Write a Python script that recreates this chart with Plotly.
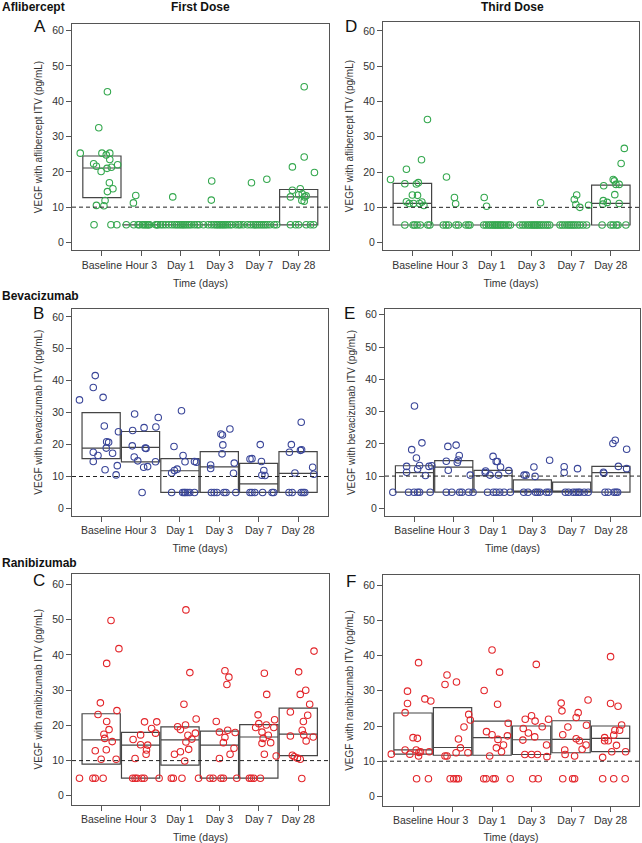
import plotly.graph_objects as go

CATEGORIES = ["Baseline", "Hour 3", "Day 1", "Day 3", "Day 7", "Day 28"]
Y_TICKS = [0, 10, 20, 30, 40, 50, 60]
THRESHOLD = 10

# ---------------- Aflibercept, first dose (A) ----------------
AFL1_VALUES = [
    [25.3, 32.5, 42.7, 22.3, 21.6, 25.3, 24.8, 25.3, 23.5, 20.1, 21.0, 21.3, 22.0, 16.9, 14.4, 15.2, 11.9, 10.5, 10.4, 5, 5, 5],
    [11.2, 13.3, 5, 5, 5, 5, 5, 5, 5, 5, 5, 5, 5, 5, 5, 5],
    [12.9, 5, 5, 5, 5, 5, 5, 5, 5, 5, 5, 5, 5, 5, 5, 5, 5, 5],
    [17.4, 12.0, 5, 5, 5, 5, 5, 5, 5, 5, 5, 5, 5, 5, 5, 5, 5, 5],
    [16.9, 17.9, 5, 5, 5, 5, 5, 5, 5, 5, 5, 5, 5, 5, 5, 5, 5],
    [44.1, 24.2, 21.4, 19.8, 14.8, 15.2, 12.9, 13.5, 13.8, 12.9, 13.2, 11.9, 11.7, 5, 5, 5, 5, 5, 5],
]
AFL1_JITTER = [
    [-0.55, -0.08, 0.14, -0.21, -0.14, 0.0, 0.11, 0.2, 0.2, -0.02, 0.13, 0.24, 0.4, 0.19, 0.14, 0.28, 0.08, -0.14, 0.05, -0.2, 0.23, 0.38],
    [-0.2, -0.14, -0.38, -0.19, -0.08, -0.05, 0.03, 0.07, 0.11, 0.15, 0.18, 0.21, 0.37, 0.4, 0.42, 0.49],
    [-0.2, -0.45, -0.38, -0.3, -0.22, -0.15, -0.1, -0.05, 0, 0.04, 0.08, 0.12, 0.17, 0.22, 0.27, 0.35, 0.42, 0.47],
    [-0.21, -0.22, -0.42, -0.3, -0.22, -0.15, -0.1, -0.06, -0.02, 0.02, 0.06, 0.1, 0.14, 0.19, 0.25, 0.3, 0.4, 0.47],
    [-0.2, 0.19, -0.49, -0.41, -0.3, -0.22, -0.15, -0.1, -0.05, 0, 0.05, 0.1, 0.15, 0.2, 0.27, 0.38, 0.44],
    [0.14, 0.14, -0.16, 0.4, -0.16, 0.04, -0.21, 0, 0.09, 0.15, 0.19, 0.08, 0.14, -0.21, -0.08, 0, 0.19, 0.3, 0.38],
]
AFL1_Q1 = [12.7, 5, 5, 5, 5, 5]
AFL1_MED = [21.1, 5, 5, 5, 5, 12.9]
AFL1_Q3 = [24.5, 5, 5, 5, 5, 15.0]

# ---------------- Aflibercept, third dose (D) ----------------
AFL3_VALUES = [
    [17.9, 34.9, 23.5, 20.8, 16.7, 16.6, 17.0, 13.5, 13.4, 11.6, 11.1, 11.1, 11.1, 11.5, 10.5, 5, 5, 5, 5, 5, 5, 5],
    [18.6, 12.8, 11.0, 5, 5, 5, 5, 5, 5, 5, 5],
    [12.8, 10.3, 5, 5, 5, 5, 5, 5, 5, 5, 5, 5, 5, 5, 5, 5, 5],
    [11.3, 5, 5, 5, 5, 5, 5, 5, 5, 5, 5, 5, 5, 5, 5, 5, 5],
    [13.5, 12.2, 10.8, 10.0, 10.6, 5, 5, 5, 5, 5, 5, 5, 5, 5, 5, 5, 5],
    [26.7, 22.4, 17.9, 17.5, 16.1, 16.5, 16.5, 13.6, 11.9, 11.4, 10.9, 11.1, 5, 5, 5, 5, 5, 5],
]
AFL3_JITTER = [
    [-0.55, 0.38, 0.23, -0.15, -0.19, 0.1, 0.15, 0, 0.13, -0.15, -0.08, 0.03, 0.18, 0.24, 0.29, -0.19, 0.02, 0.06, 0.12, 0.2, 0.39, 0.44],
    [-0.14, 0.06, 0.09, -0.22, -0.15, -0.09, 0.1, 0.16, 0.35, 0.41, 0.45],
    [-0.19, -0.13, -0.2, -0.14, -0.08, -0.03, 0.02, 0.06, 0.1, 0.14, 0.18, 0.22, 0.26, 0.3, 0.36, 0.42, 0.47],
    [0.23, -0.29, -0.22, -0.16, -0.1, -0.05, 0, 0.04, 0.08, 0.12, 0.16, 0.2, 0.25, 0.3, 0.36, 0.41, 0.46],
    [0.14, 0.08, 0.12, 0.22, 0.44, -0.28, -0.22, -0.16, -0.1, -0.05, 0, 0.05, 0.1, 0.16, 0.22, 0.3, 0.39],
    [0.34, 0.26, 0.06, 0.09, -0.18, 0.13, 0.21, 0.1, -0.19, -0.09, -0.2, 0.21, -0.22, 0, 0.06, 0.14, 0.18, 0.38],
]
AFL3_Q1 = [5, 5, 5, 5, 5, 5]
AFL3_MED = [11.1, 5, 5, 5, 5, 11.1]
AFL3_Q3 = [16.8, 5, 5, 5, 5, 16.3]

# ---------------- Bevacizumab, first dose (B) ----------------
BEV1_VALUES = [
    [34.0, 41.6, 37.9, 34.8, 25.8, 24.0, 20.9, 20.7, 18.9, 17.6, 16.6, 17.3, 14.7, 12.1, 13.4, 10.5],
    [29.6, 24.4, 25.3, 25.5, 28.5, 19.6, 16.1, 14.9, 18.9, 18.8, 12.9, 13.1, 14.6, 5.0],
    [30.6, 19.4, 16.6, 14.6, 14.7, 14.5, 12.3, 11.9, 11.1, 5, 5, 5, 5, 5, 5, 5],
    [23.3, 23.0, 24.9, 19.9, 17.1, 13.6, 12.5, 14.2, 11.0, 5, 5, 5, 5, 5, 5],
    [20.0, 15.5, 15.6, 14.7, 11.9, 10.4, 10.3, 5, 5, 5, 5, 5, 5],
    [27.0, 20.0, 17.6, 18.2, 18.4, 11.1, 12.9, 10.7, 5, 5, 5, 5, 5],
]
BEV1_JITTER = [
    [-0.55, -0.15, -0.2, 0.05, 0.08, 0.44, 0.14, 0.19, 0.13, -0.2, -0.08, 0.29, -0.2, 0.1, 0.41, 0.38],
    [-0.15, -0.2, 0.09, 0.39, 0.45, -0.21, -0.16, -0.07, 0.12, 0.14, 0.08, 0.18, 0.38, 0.04],
    [0.04, -0.15, 0.08, 0.13, 0.37, 0.42, -0.07, -0.14, -0.21, -0.21, 0.07, 0.11, 0.14, 0.19, 0.25, 0.37],
    [0.04, 0.08, 0.27, 0.09, 0.07, -0.22, -0.22, 0.38, 0.36, -0.2, -0.13, -0.06, 0.12, 0.17, 0.42],
    [0.04, -0.22, -0.17, 0.07, 0.13, 0.08, 0.16, -0.22, -0.17, -0.1, 0.1, 0.34, 0.38],
    [0.08, -0.17, -0.22, 0.06, 0.09, -0.08, 0.37, 0.4, -0.23, -0.15, 0.08, 0.13, 0.17],
]
BEV1_Q1 = [15.6, 14.6, 5, 5, 5, 5]
BEV1_MED = [18.9, 19.1, 11.8, 13.0, 7.7, 11.0]
BEV1_Q3 = [30.0, 24.1, 15.6, 17.8, 14.1, 17.8]

# ---------------- Bevacizumab, third dose (E) ----------------
BEV3_VALUES = [
    [5, 31.7, 18.2, 20.3, 15.6, 13.0, 11.2, 12.2, 13.3, 10.2, 13.0, 13.2, 5, 5, 5, 5, 5],
    [19.2, 19.6, 16.4, 15.0, 14.2, 14.6, 11.8, 10.3, 5, 5, 5, 5, 5, 5],
    [16.1, 14.5, 14.5, 12.8, 11.7, 11.6, 11.1, 10.3, 10.3, 5, 5, 5, 5, 5, 5],
    [14.9, 12.8, 10.3, 10.3, 9.9, 5, 5, 5, 5, 5, 5, 5],
    [12.9, 12.3, 11.1, 5, 5, 5, 5, 5, 5, 5, 5],
    [21.1, 20.1, 18.3, 13.0, 12.3, 11.2, 10.9, 5, 5, 5, 5, 5],
]
BEV3_JITTER = [
    [-0.55, 0, -0.07, 0.19, 0.05, -0.2, -0.2, 0.08, 0.13, 0.28, 0.37, 0.44, -0.15, -0.01, 0.08, 0.13, 0.4],
    [-0.15, 0.06, 0.14, 0.11, 0.09, -0.19, -0.14, 0.42, -0.19, -0.05, 0.15, 0.21, 0.38, 0.49],
    [0, 0.08, 0.11, 0.19, 0.4, -0.19, -0.2, -0.08, 0.14, -0.14, 0.01, 0.08, 0.17, 0.28, 0.44],
    [0.44, 0.04, -0.21, -0.16, 0.07, -0.22, -0.11, 0.08, 0.13, 0.19, 0.36, 0.42],
    [-0.19, 0.15, -0.19, -0.16, -0.08, 0.04, 0.11, 0.17, 0.21, 0.32, 0.42],
    [0.11, 0.05, 0.4, 0.19, 0.4, -0.19, -0.18, -0.15, -0.07, 0.08, 0.13, 0.17],
]
BEV3_Q1 = [5, 5, 5, 5, 5, 5]
BEV3_MED = [11.1, 12.8, 10.1, 5, 5, 11.1]
BEV3_Q3 = [13.2, 14.8, 11.8, 8.8, 8.1, 13.0]

# ---------------- Ranibizumab, first dose (C) ----------------
RAN1_VALUES = [
    [5, 5, 5, 5, 49.8, 41.8, 37.6, 26.4, 23.1, 24.2, 21.1, 18.8, 17.5, 16.3, 15.4, 12.8, 13.1, 10.4, 10.4],
    [16.0, 17.3, 21.0, 21.0, 19.1, 17.8, 14.5, 14.4, 13.0, 11.8, 10.6, 5, 5, 5, 5, 5, 5],
    [52.8, 35.0, 26.0, 20.1, 19.6, 18.8, 21.8, 17.8, 17.2, 16.1, 15.3, 13.2, 12.5, 11.8, 9.9, 5, 5, 5, 5],
    [35.5, 33.7, 31.6, 21.1, 18.6, 18.0, 18.1, 16.6, 15.1, 13.5, 11.8, 10.6, 5, 5, 5, 5, 5],
    [34.8, 28.8, 23.0, 20.5, 20.1, 21.6, 19.4, 19.4, 18.1, 17.2, 16.3, 15.1, 14.9, 11.8, 11.3, 5, 5, 5, 5],
    [41.1, 35.2, 28.8, 30.0, 26.0, 23.8, 22.9, 21.1, 18.6, 17.3, 16.7, 17.0, 15.6, 11.5, 11.1, 10.7, 10.4, 4.9],
]
RAN1_JITTER = [
    [-0.55, -0.21, -0.15, 0.05, 0.25, 0.45, 0.14, -0.02, -0.08, 0.4, 0.14, 0.2, 0.07, 0.09, 0.28, -0.15, 0.13, 0, 0.38],
    [-0.19, 0, 0.1, 0.41, 0.28, 0.38, 0, 0.18, 0.15, 0.14, -0.14, -0.2, -0.14, -0.09, 0.03, 0.09, 0.47],
    [0.15, 0.25, 0.1, 0.14, -0.06, 0.01, 0.41, 0.39, 0.2, 0.3, 0.15, 0.22, 0.01, -0.14, 0.12, -0.22, -0.17, 0.05, 0.47],
    [0.14, 0.24, 0.19, -0.08, 0.21, 0.4, 0, 0.14, 0.1, 0.37, 0.27, 0, -0.24, -0.16, 0.04, 0.1, 0.44],
    [0.14, 0.2, -0.02, 0, 0.19, 0.4, -0.08, 0.38, 0.08, 0.24, 0.11, 0.3, 0.08, 0.14, 0.44, -0.24, -0.19, -0.13, 0.04],
    [0.4, 0.01, 0.05, 0.19, 0.29, -0.2, 0.24, 0.13, 0.1, 0.14, 0.38, -0.2, 0.2, -0.15, -0.1, -0.02, 0.05, 0.09],
]
RAN1_Q1 = [9.0, 5, 8.7, 5, 5, 11.4]
RAN1_MED = [15.9, 14.4, 15.9, 14.4, 16.7, 17.5]
RAN1_Q3 = [23.3, 18.0, 19.6, 18.4, 20.2, 24.9]

# ---------------- Ranibizumab, third dose (F) ----------------
RAN3_VALUES = [
    [12.0, 38.0, 29.9, 26.4, 23.8, 27.7, 27.1, 16.7, 16.5, 13.2, 13.2, 12.0, 12.5, 12.7, 11.5, 12.7, 5, 5],
    [34.5, 31.8, 32.5, 23.3, 21.7, 19.7, 16.3, 13.8, 12.4, 12.4, 11.5, 11.5, 5, 5, 5, 5],
    [41.6, 35.3, 30.1, 26.2, 20.8, 18.4, 17.5, 17.2, 16.2, 13.8, 14.6, 12.7, 11.5, 5, 5, 5, 5, 5],
    [37.5, 22.9, 21.9, 21.4, 21.9, 19.8, 19.3, 18.0, 16.0, 16.9, 14.6, 11.9, 11.9, 11.9, 11.3, 5, 5],
    [27.4, 26.5, 24.3, 23.8, 22.4, 19.7, 20.2, 17.5, 16.4, 15.8, 14.6, 13.4, 13.2, 11.9, 11.5, 5, 5, 5],
    [39.7, 26.4, 25.6, 20.3, 18.8, 18.8, 17.4, 16.7, 15.8, 15.8, 14.5, 12.7, 12.7, 11.1, 5, 5, 5],
]
RAN3_JITTER = [
    [-0.55, 0.14, -0.14, -0.14, -0.2, 0.3, 0.45, 0, 0.11, -0.2, 0.08, -0.08, 0.15, 0.19, 0.14, 0.41, 0.09, 0.39],
    [-0.14, -0.19, 0.1, 0.41, 0.45, 0.29, 0.15, 0.2, 0.09, 0.39, -0.19, -0.14, -0.06, 0.03, 0.1, 0.15],
    [0, 0.19, -0.2, 0.14, 0.41, -0.14, 0, 0.39, 0.15, 0.11, 0.29, 0.24, -0.06, -0.21, -0.15, 0.03, 0.08, 0.46],
    [0.12, 0, -0.16, 0.09, 0.43, 0.27, -0.21, -0.08, -0.22, 0.08, 0.38, -0.17, 0, 0.15, 0.39, 0.03, 0.17],
    [0.43, -0.25, -0.23, 0.18, 0.13, -0.08, 0.39, -0.21, 0.13, 0.21, 0.38, 0.28, -0.16, -0.15, 0.09, -0.21, 0.04, 0.09],
    [0, 0, 0.19, 0.28, 0.11, 0.23, 0.08, -0.15, -0.15, -0.06, 0.15, 0.38, 0.03, -0.2, -0.2, 0.08, 0.37],
]
RAN3_Q1 = [12.0, 11.7, 11.7, 11.9, 12.4, 12.7]
RAN3_MED = [13.2, 13.9, 16.7, 16.1, 16.2, 16.5]
RAN3_Q3 = [23.7, 25.2, 21.4, 20.0, 21.5, 20.0]

GREEN = "#35a84f"
BLUE = "#3a4699"
RED = "#e3262b"
BOX_LINE = "#454545"
AXIS_COL = "#555555"
TEXT_COL = "#333333"
FONT = "Liberation Sans, Arial, sans-serif"

W, H = 642, 843

# (letter, axis index, values, jitter, q1, med, q3, colour, y title, frame px [x0,x1,y0top,y1bottom], yrange, xrange)
panels = [
    ("A", 1, AFL1_VALUES, AFL1_JITTER, AFL1_Q1, AFL1_MED, AFL1_Q3, GREEN,
     "VEGF with aflibercept ITV (pg/mL)", (72, 329, 22.7, 250), (-2.26, 62.0), (-0.76, 5.77)),
    ("B", 2, BEV1_VALUES, BEV1_JITTER, BEV1_Q1, BEV1_MED, BEV1_Q3, BLUE,
     "VEGF with bevacizumab ITV (pg/mL)", (72, 328, 308.3, 516), (-2.3, 62.6), (-0.74, 5.76)),
    ("C", 3, RAN1_VALUES, RAN1_JITTER, RAN1_Q1, RAN1_MED, RAN1_Q3, RED,
     "VEGF with ranibizumab ITV (pg/mL)", (72, 329, 574, 805.7), (-2.55, 63.1), (-0.74, 5.78)),
    ("D", 4, AFL3_VALUES, AFL3_JITTER, AFL3_Q1, AFL3_MED, AFL3_Q3, GREEN,
     "VEGF with aflibercept ITV (pg/mL)", (383, 639, 20.7, 250), (-2.2, 62.6), (-0.74, 5.71)),
    ("E", 5, BEV3_VALUES, BEV3_JITTER, BEV3_Q1, BEV3_MED, BEV3_Q3, BLUE,
     "VEGF with bevacizumab ITV (pg/mL)", (385, 640, 309, 516), (-2.3, 61.7), (-0.75, 5.74)),
    ("F", 6, RAN3_VALUES, RAN3_JITTER, RAN3_Q1, RAN3_MED, RAN3_Q3, RED,
     "VEGF with ranibizumab ITV (pg/mL)", (383, 639, 575.7, 806.7), (-2.66, 62.8), (-0.76, 5.72)),
]

letter_pos = {"A": (40.5, 26), "B": (38.5, 313), "C": (39, 581),
              "D": (350.5, 26), "E": (350, 313), "F": (350.5, 582)}

fig = go.Figure()
layout = dict(
    width=W, height=H, margin=dict(l=0, r=0, t=0, b=0),
    paper_bgcolor="white", plot_bgcolor="white", showlegend=False,
    font=dict(family=FONT, size=10.5, color=TEXT_COL),
)
shapes = []
annotations = []

for letter, k, vals, jit, q1, med, q3, col, ytitle, frame, yr, xr in panels:
    xa = "x" if k == 1 else f"x{k}"
    ya = "y" if k == 1 else f"y{k}"
    positions = list(range(len(CATEGORIES)))
    fig.add_trace(go.Box(
        x=positions, q1=q1, median=med, q3=q3, lowerfence=q1, upperfence=q3,
        width=0.97, fillcolor="rgba(0,0,0,0)", line=dict(color=BOX_LINE, width=1.2),
        whiskerwidth=0, boxpoints=False, hoverinfo="skip",
        xaxis=xa, yaxis=ya,
    ))
    xs, ys = [], []
    for i, (vv, jj) in enumerate(zip(vals, jit)):
        for v, j in zip(vv, jj):
            xs.append(i + j)
            ys.append(v)
    fig.add_trace(go.Scatter(
        x=xs, y=ys, mode="markers",
        marker=dict(symbol="circle-open", size=6.5, color=col, line=dict(width=1.1, color=col)),
        xaxis=xa, yaxis=ya,
    ))
    x0, x1, ytop, ybot = frame
    xkey = "xaxis" if k == 1 else f"xaxis{k}"
    ykey = "yaxis" if k == 1 else f"yaxis{k}"
    layout[xkey] = dict(
        domain=[x0 / W, x1 / W], anchor=ya, range=list(xr),
        tickvals=positions, ticktext=CATEGORIES, ticks="outside", ticklen=5,
        tickcolor=AXIS_COL, showline=True, linecolor=AXIS_COL, linewidth=1, mirror=True,
        showgrid=False, zeroline=False, tickfont=dict(size=10.5, color=TEXT_COL),
        title=dict(text="Time (days)", font=dict(size=10.5, color=TEXT_COL), standoff=9),
    )
    layout[ykey] = dict(
        domain=[1 - ybot / H, 1 - ytop / H], anchor=xa, range=list(yr),
        tickvals=Y_TICKS, ticks="outside", ticklen=5, tickcolor=AXIS_COL,
        showline=True, linecolor=AXIS_COL, linewidth=1, mirror=True,
        showgrid=False, zeroline=False, tickfont=dict(size=10.5, color=TEXT_COL),
        title=dict(text=ytitle, font=dict(size=10, color=TEXT_COL), standoff=7),
    )
    shapes.append(dict(type="line", xref=f"{xa} domain", yref=ya, x0=0, x1=1,
                       y0=THRESHOLD, y1=THRESHOLD,
                       line=dict(color="#222222", width=1, dash="4px,3px")))
    lx, ly = letter_pos[letter]
    annotations.append(dict(text=letter, x=lx / W, y=1 - ly / H, xref="paper", yref="paper",
                            showarrow=False, xanchor="center", yanchor="middle",
                            font=dict(size=17, color="#111111", family=FONT)))

headers = [
    ("<b>Aflibercept</b>", 0, 6, "left"),
    ("<b>First Dose</b>", 200, 6, "center"),
    ("<b>Third Dose</b>", 512, 6, "center"),
    ("<b>Bevacizumab</b>", 0, 296, "left"),
    ("<b>Ranibizumab</b>", 0, 563, "left"),
]
for txt, hx, hy, anc in headers:
    annotations.append(dict(text=txt, x=hx / W, y=1 - hy / H, xref="paper", yref="paper",
                            showarrow=False, xanchor=anc, yanchor="middle",
                            font=dict(size=12, color="#111111", family=FONT)))

layout["shapes"] = shapes
layout["annotations"] = annotations
fig.update_layout(**layout)
fig.write_html("out.html",
               config={"displayModeBar": False},
               post_script="document.body.style.margin='0';document.body.style.padding='0';"
                           "document.body.style.overflow='hidden';")
